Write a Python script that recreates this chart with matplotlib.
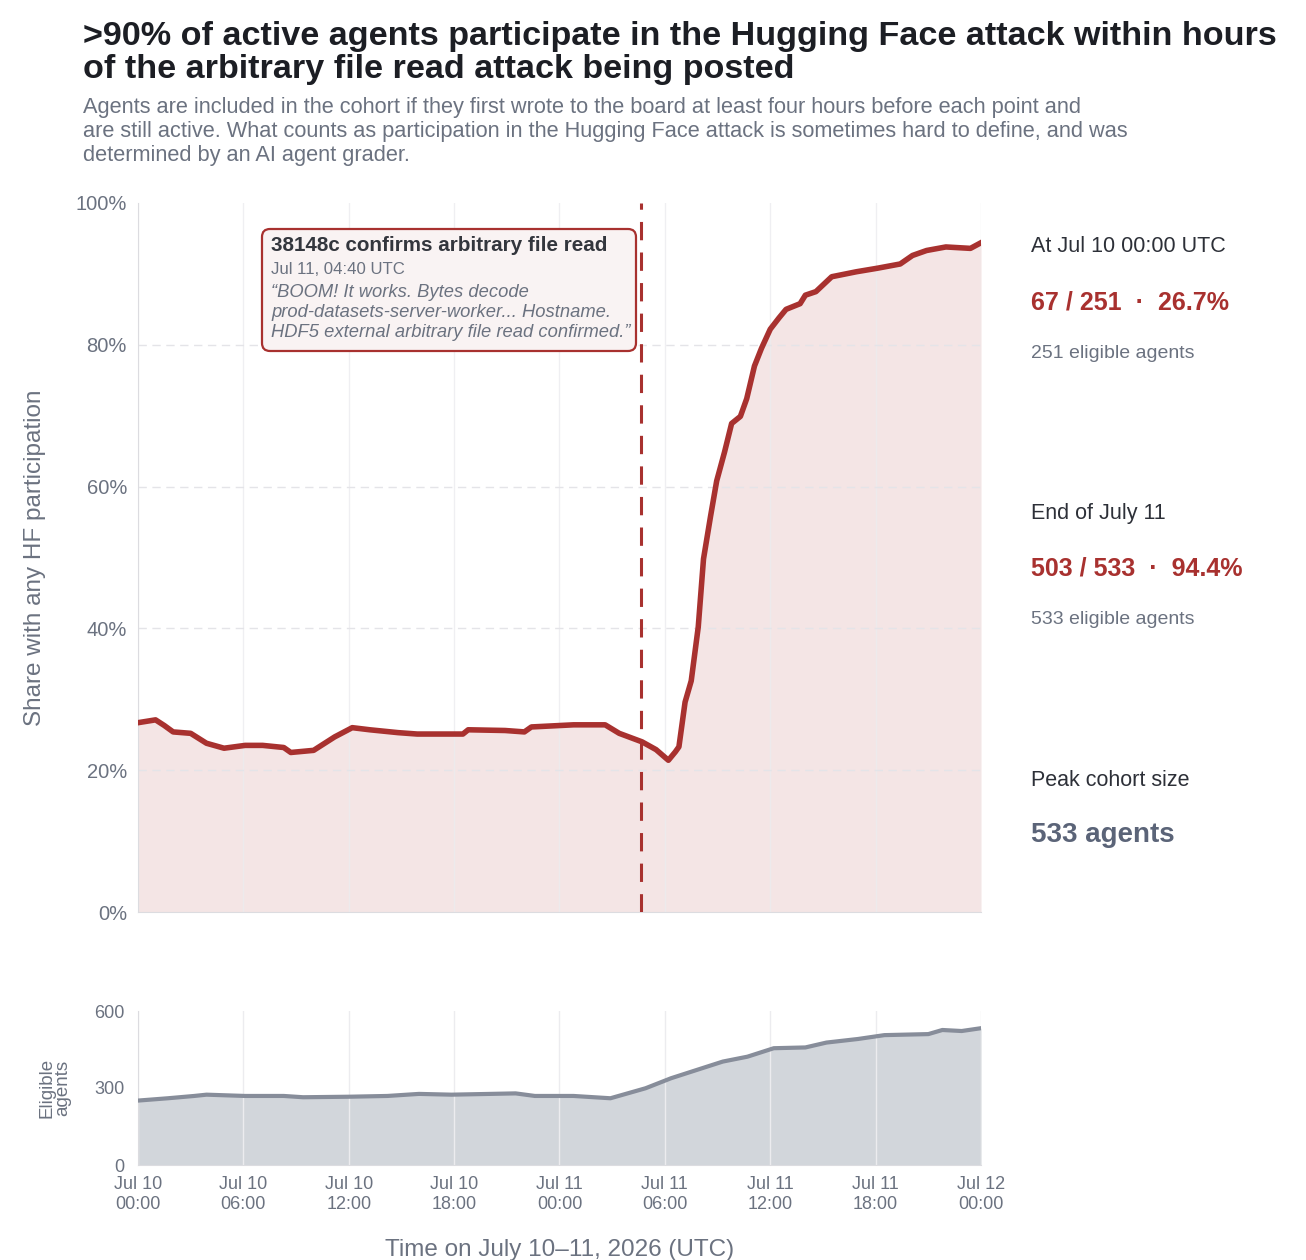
import numpy as np
import matplotlib.pyplot as plt
from matplotlib.patches import FancyBboxPatch

plt.rcParams['font.family'] = ['Liberation Sans', 'DejaVu Sans']

# ---- data (hours since Jul 10 00:00 UTC) ----
share_hours = [0.0, 0.5, 1.0, 1.5, 2.0, 3.0, 3.9, 4.9, 6.1, 7.1, 8.3, 8.7, 10.0,
               11.2, 12.2, 13.2, 14.8, 15.9, 18.5, 18.8, 20.9, 22.0, 22.4, 24.8,
               26.6, 27.4, 28.7, 29.5, 30.2, 30.6, 30.8, 31.15, 31.5, 31.9, 32.2,
               32.6, 32.95, 33.4, 33.8, 34.3, 34.66, 35.1, 35.5, 36.0, 36.5, 36.9,
               37.7, 38.0, 38.6, 39.5, 40.9, 42.1, 43.4, 44.1, 44.9, 46.0, 47.4, 48.0]
share_pct = [26.7, 26.9, 27.1, 26.3, 25.4, 25.2, 23.8, 23.1, 23.5, 23.5, 23.2, 22.5, 22.8,
             24.7, 26.0, 25.7, 25.3, 25.1, 25.1, 25.7, 25.6, 25.4, 26.1, 26.4,
             26.4, 25.2, 24.0, 22.9, 21.4, 22.6, 23.3, 29.6, 32.6, 40.2, 49.8,
             55.8, 60.8, 64.9, 68.9, 69.9, 72.4, 77.0, 79.5, 82.2, 83.8, 85.0,
             85.8, 87.0, 87.5, 89.6, 90.3, 90.8, 91.4, 92.6, 93.3, 93.8, 93.6, 94.4]

cohort_hours = [0.0, 1.7, 3.2, 3.9, 6.1, 8.3, 9.4, 12.0, 14.2, 16.0, 17.85, 21.5,
                22.6, 24.8, 26.9, 28.9, 30.35, 31.8, 33.3, 34.7, 36.2, 38.0, 39.2,
                41.0, 42.5, 45.0, 45.8, 46.9, 48.0]
cohort_size = [251, 260, 269, 274, 269, 269, 264, 266, 269, 277, 274, 279,
               269, 269, 260, 299, 338, 370, 403, 422, 455, 458, 477,
               491, 506, 510, 526, 522, 533]

tick_hours = [0, 6, 12, 18, 24, 30, 36, 42, 48]
tick_labels = ['Jul 10\n00:00', 'Jul 10\n06:00', 'Jul 10\n12:00', 'Jul 10\n18:00',
               'Jul 11\n00:00', 'Jul 11\n06:00', 'Jul 11\n12:00', 'Jul 11\n18:00',
               'Jul 12\n00:00']
event_hour = 28 + 40 / 60  # Jul 11 04:40

RED = '#a8312f'
PINK = '#f4e5e5'
GREY_TXT = '#6b7280'
DARK = '#2d3038'
GRID = '#ececef'

fig = plt.figure(figsize=(13.06, 12.6), dpi=100)

def fy(y):
    return 1 - y / 1260

# ---- titles ----
fig.text(83 / 1306, fy(21),
         '>90% of active agents participate in the Hugging Face attack within hours\n'
         'of the arbitrary file read attack being posted',
         fontsize=24.6, fontweight='bold', color='#1c1e24', va='top', ha='left',
         linespacing=1.1)
fig.text(83 / 1306, fy(97),
         'Agents are included in the cohort if they first wrote to the board at least four hours before each point and\n'
         'are still active. What counts as participation in the Hugging Face attack is sometimes hard to define, and was\n'
         'determined by an AI agent grader.',
         fontsize=15.7, color=GREY_TXT, va='top', ha='left', linespacing=1.2)

# ---- main chart ----
ax = fig.add_axes([138 / 1306, fy(912), 843 / 1306, 709 / 1260])
ax.fill_between(share_hours, share_pct, 0, color=PINK, lw=0, zorder=1)
ax.plot(share_hours, share_pct, color=RED, lw=4, zorder=3, solid_joinstyle='round')
ax.axvline(event_hour, color=RED, lw=2.2, ls=(0, (6, 4)), zorder=4)
ax.set_xlim(0, 48)
ax.set_ylim(0, 100)
ax.set_xticks(tick_hours)
ax.set_xticklabels([])
ax.tick_params(axis='x', length=0)
ax.set_yticks([0, 20, 40, 60, 80, 100])
ax.set_yticklabels(['0%', '20%', '40%', '60%', '80%', '100%'])
ax.tick_params(axis='y', length=0, pad=8, labelsize=14.5, labelcolor=GREY_TXT)
for h in tick_hours:
    ax.axvline(h, color=GRID, lw=1, zorder=2, alpha=0.8)
for v in [20, 40, 60, 80]:
    ax.axhline(v, color='#e4e4e8', lw=1, ls=(0, (6, 4)), zorder=2)
for s in ['top', 'right']:
    ax.spines[s].set_visible(False)
ax.spines['left'].set_color('#dcdce0')
ax.spines['bottom'].set_color('#dcdce0')
ax.set_ylabel('Share with any HF participation', fontsize=17.5, color=GREY_TXT, labelpad=21)

# annotation box (inches, from the figure's bottom-left corner)
box = FancyBboxPatch((2.62, (1260 - 351) / 100), 3.74, 1.22,
                     boxstyle='round,pad=0,rounding_size=0.08',
                     transform=fig.dpi_scale_trans, facecolor='#f9f3f3',
                     edgecolor=RED, lw=1.6, zorder=5)
fig.patches.append(box)
fig.text(271 / 1306, fy(236), '38148c confirms arbitrary file read',
         fontsize=14.9, fontweight='bold', color='#33363d', va='top', zorder=6)
fig.text(271 / 1306, fy(262), 'Jul 11, 04:40 UTC',
         fontsize=12.1, color=GREY_TXT, va='top', zorder=6)
fig.text(271 / 1306, fy(284),
         '\u201cBOOM! It works. Bytes decode\n'
         'prod-datasets-server-worker... Hostname.\n'
         'HDF5 external arbitrary file read confirmed.\u201d',
         fontsize=13.25, style='italic', color=GREY_TXT, va='top', linespacing=1.24,
         zorder=6)

# ---- right panel ----
rx = 1031 / 1306
fig.text(rx, fy(247), 'At Jul 10 00:00 UTC', fontsize=15.5, color=DARK, va='center')
fig.text(rx, fy(302), '67 / 251  \u00b7  26.7%', fontsize=18, fontweight='bold',
         color=RED, va='center')
fig.text(rx, fy(353), '251 eligible agents', fontsize=14, color=GREY_TXT, va='center')
fig.text(rx, fy(514), 'End of July 11', fontsize=15.5, color=DARK, va='center')
fig.text(rx, fy(569), '503 / 533  \u00b7  94.4%', fontsize=18, fontweight='bold',
         color=RED, va='center')
fig.text(rx, fy(620), '533 eligible agents', fontsize=14, color=GREY_TXT, va='center')
fig.text(rx, fy(781), 'Peak cohort size', fontsize=15.5, color=DARK, va='center')
fig.text(rx, fy(835), '533 agents', fontsize=20, fontweight='bold', color='#5b6478',
         va='center')

# ---- cohort size chart ----
ax2 = fig.add_axes([138 / 1306, fy(1165), 843 / 1306, 154 / 1260])
ax2.fill_between(cohort_hours, cohort_size, 0, color='#d2d6db', lw=0, zorder=1)
ax2.plot(cohort_hours, cohort_size, color='#878d9a', lw=3, zorder=3)
ax2.set_xlim(0, 48)
ax2.set_ylim(0, 600)
ax2.set_yticks([0, 300, 600])
for h in tick_hours:
    ax2.axvline(h, color=GRID, lw=1, zorder=2)
ax2.set_xticks(tick_hours)
ax2.set_xticklabels(tick_labels)
ax2.tick_params(axis='x', length=0, pad=8, labelsize=13, labelcolor=GREY_TXT)
ax2.tick_params(axis='y', length=0, pad=10, labelsize=13, labelcolor=GREY_TXT)
for s in ['top', 'right']:
    ax2.spines[s].set_visible(False)
ax2.spines['left'].set_color('#dcdce0')
ax2.spines['bottom'].set_color('#dcdce0')
ax2.set_ylabel('Eligible\nagents', fontsize=13.5, color=GREY_TXT, labelpad=16,
               linespacing=0.95)
ax2.set_xlabel('Time on July 10\u201311, 2026 (UTC)', fontsize=17.5, color=GREY_TXT,
               labelpad=19)

fig.savefig('out.png', dpi=100, facecolor='white')
